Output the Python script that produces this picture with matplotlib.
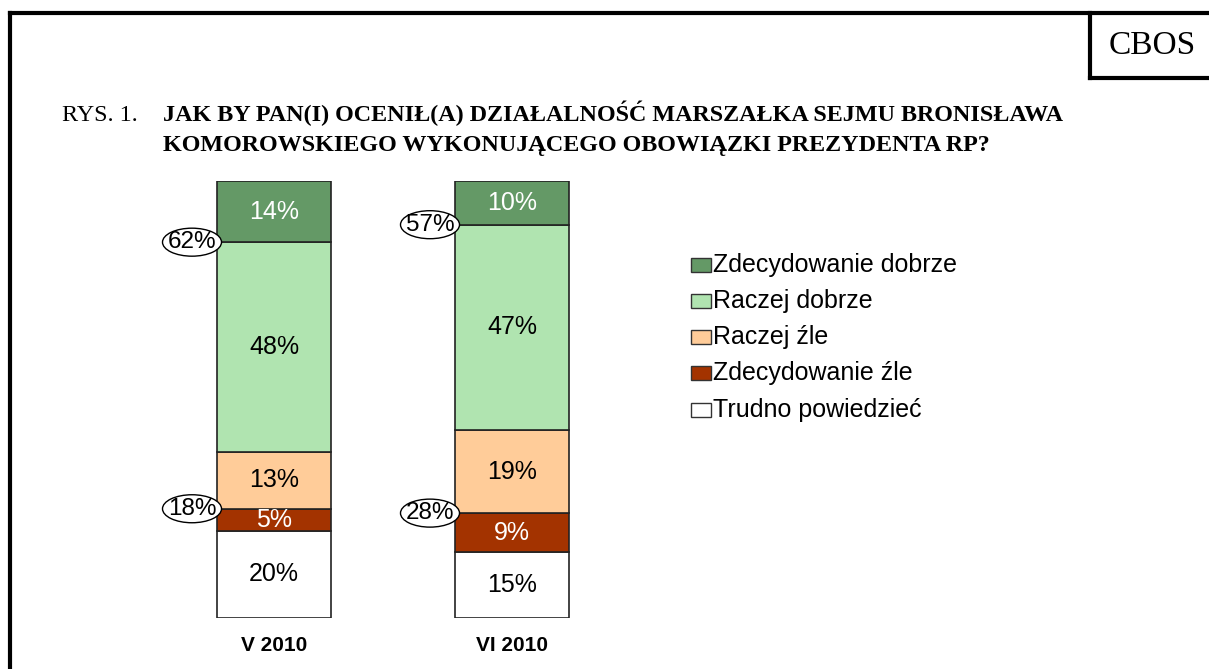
import matplotlib
matplotlib.use("Agg")
import matplotlib.pyplot as plt
from matplotlib.patches import Ellipse, Rectangle
from matplotlib.lines import Line2D

# ---- data ----
periods = ["V 2010", "VI 2010"]
categories = ["Zdecydowanie dobrze", "Raczej dobrze", "Raczej źle",
              "Zdecydowanie źle", "Trudno powiedzieć"]
values = {
    "Zdecydowanie dobrze": [14, 10],
    "Raczej dobrze": [48, 47],
    "Raczej źle": [13, 19],
    "Zdecydowanie źle": [5, 9],
    "Trudno powiedzieć": [20, 15],
}
good_totals = [62, 57]
bad_totals = [18, 28]
colors = {
    "Zdecydowanie dobrze": "#649966",
    "Raczej dobrze": "#b0e4b0",
    "Raczej źle": "#ffcc99",
    "Zdecydowanie źle": "#a33300",
    "Trudno powiedzieć": "#ffffff",
}
label_colors = {
    "Zdecydowanie dobrze": "white",
    "Raczej dobrze": "black",
    "Raczej źle": "black",
    "Zdecydowanie źle": "white",
    "Trudno powiedzieć": "black",
}
title_prefix = "RYS. 1."
title_lines = ["JAK BY PAN(I) OCENIŁ(A) DZIAŁALNOŚĆ MARSZAŁKA SEJMU BRONISŁAWA",
               "KOMOROWSKIEGO WYKONUJĄCEGO OBOWIĄZKI PREZYDENTA RP?"]

W, H = 1209, 669
fig = plt.figure(figsize=(W / 100, H / 100), dpi=100)
fig.patch.set_facecolor("white")

def px(x, y):
    return x / W, 1 - y / H

# ---- frame ----
lw = 3
fig.add_artist(Line2D([px(10, 0)[0]] * 2, [px(0, 13)[1], 0], color="black", lw=lw))
fig.add_artist(Line2D([px(10, 0)[0], 1], [px(0, 13)[1]] * 2, color="black", lw=lw))
fig.add_artist(Line2D([px(1090, 0)[0]] * 2, [px(0, 13)[1], px(0, 78)[1]], color="black", lw=lw))
fig.add_artist(Line2D([px(1090, 0)[0], 1], [px(0, 78)[1]] * 2, color="black", lw=lw))
fig.text(*px(1152, 46), "CBOS", fontsize=24, family="Liberation Serif",
         ha="center", va="center")

# ---- title ----
tfs = 17.4
fig.text(*px(62, 121), title_prefix, fontsize=tfs, family="Liberation Serif",
         ha="left", va="baseline")
fig.text(*px(163, 121), title_lines[0], fontsize=tfs, family="Liberation Serif",
         weight="bold", ha="left", va="baseline")
fig.text(*px(163, 151), title_lines[1], fontsize=tfs, family="Liberation Serif",
         weight="bold", ha="left", va="baseline")

# ---- bars ----
ax_l, ax_r, ax_t, ax_b = 150, 640, 181, 618
ax = fig.add_axes([ax_l / W, 1 - ax_b / H, (ax_r - ax_l) / W, (ax_b - ax_t) / H])
unit = 238.0
c0 = 274.0
ax.set_xlim(-(c0 - ax_l) / unit, -(c0 - ax_l) / unit + (ax_r - ax_l) / unit)
ax.set_ylim(0, 100)
ax.axis("off")
bw = 114 / unit
xs = list(range(len(periods)))
stack_order = categories[::-1]  # bottom to top
bottoms = [0] * len(periods)
tops = {}
for cat in stack_order:
    vals = values[cat]
    ax.bar(xs, vals, bottom=bottoms, width=bw, color=colors[cat],
           edgecolor="#222222", linewidth=1.2, zorder=2)
    for i, v in enumerate(vals):
        ax.text(xs[i], bottoms[i] + v / 2, f"{v}%", ha="center", va="center",
                fontsize=18, family="Liberation Sans", color=label_colors[cat], zorder=3)
    tops[cat] = [b + v for b, v in zip(bottoms, vals)]
    bottoms = [b + v for b, v in zip(bottoms, vals)]

# sum ellipses
ew = 59 / unit
eh = 28 / (ax_b - ax_t) * 100
for i in xs:
    for total, cat in ((good_totals[i], "Raczej dobrze"), (bad_totals[i], "Zdecydowanie źle")):
        y = tops[cat][i]
        x = xs[i] - bw / 2 - 25 / unit
        ax.add_patch(Ellipse((x, y), ew, eh, facecolor="white", edgecolor="black",
                             linewidth=1.0, zorder=4, clip_on=False))
        ax.text(x, y, f"{total}%", ha="center", va="center", fontsize=17.5,
                family="Liberation Sans", zorder=5, clip_on=False)

for i, p in enumerate(periods):
    ax.text(xs[i], -6.2, p, ha="center", va="center", fontsize=15,
            family="Liberation Sans", weight="bold", clip_on=False)

# ---- legend ----
leg_y = [265, 301, 337, 373, 410]
for cat, y in zip(categories, leg_y):
    x0, y0 = px(691, y + 7)
    fig.add_artist(Rectangle((x0, y0), 20 / W, 14 / H, facecolor=colors[cat],
                             edgecolor="#333333", linewidth=1.0))
    fig.text(*px(713, y), cat, fontsize=18, family="Liberation Sans",
             ha="left", va="center")

fig.savefig("out.png", dpi=100, facecolor="white")
